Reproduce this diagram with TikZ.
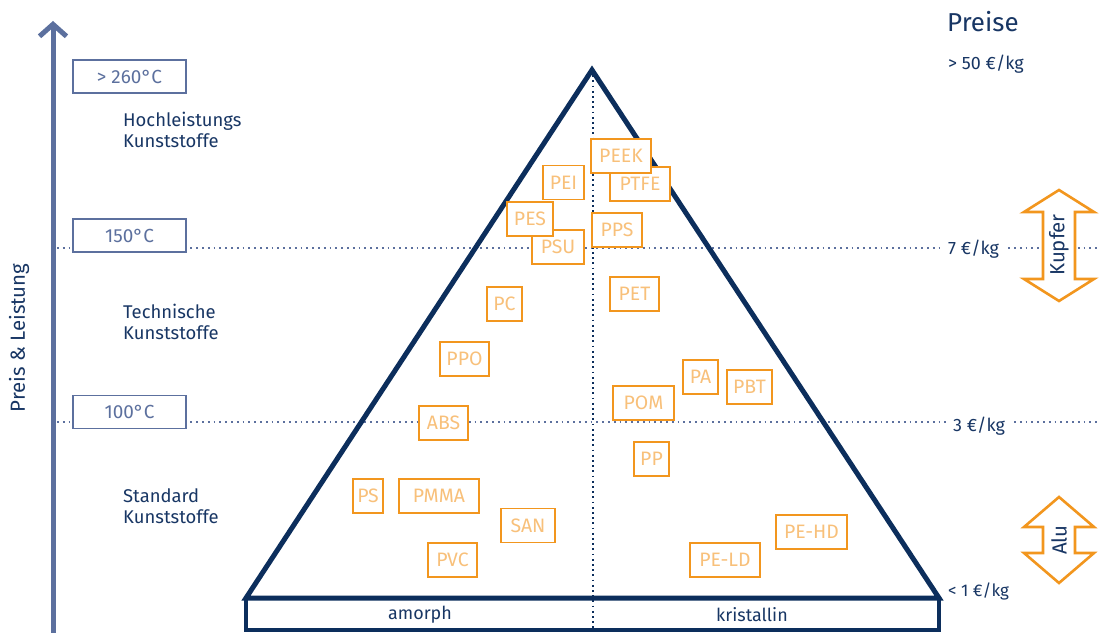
\documentclass[tikz,border=0pt]{standalone}
\usepackage{fontspec}
\setmainfont{Fira Sans}
\usetikzlibrary{arrows.meta}
\definecolor{navy}{RGB}{12,46,92}
\definecolor{navytext}{RGB}{24,54,100}
\definecolor{slate}{RGB}{92,112,158}
\definecolor{orangeline}{RGB}{242,150,30}
\definecolor{orangetext}{RGB}{248,192,122}
\tikzset{
  obox/.style={draw=orangeline, line width=1.5bp, fill=white, text=orangetext,
    minimum height=34bp, inner sep=0pt, font=\fontsize{19.5}{22}\selectfont},
  tbox/.style={draw=slate, line width=1.3bp, fill=white, text=slate,
    minimum width=113bp, minimum height=33bp, inner sep=0pt,
    font=\fontsize{19}{22}\selectfont},
  catlabel/.style={anchor=west, align=left, text=navytext, inner sep=0pt,
    font=\fontsize{18.5}{21}\selectfont},
  pricelabel/.style={anchor=west, text=navytext, fill=white, inner sep=0pt,
    font=\fontsize{18}{21}\selectfont},
  levelline/.style={draw=slate, line width=2.2bp, dash pattern=on 1.8bp off 4bp},
  axisline/.style={draw=navy, line width=2.2bp, dash pattern=on 1.8bp off 3.4bp},
  pyramid/.style={draw=navy, line width=5bp, line join=miter},
  metalarrow/.style={draw=orangeline, line width=2.6bp, fill=white, line join=miter},
  sidelabel/.style={text=navytext, font=\fontsize{18}{21}\selectfont},
}
\begin{document}
\begin{tikzpicture}[x=1bp, y=-1bp]
\useasboundingbox (0,0) rectangle (1101,633);

% level lines for the temperature limits
\coordinate (l150a) at (57,248);
\coordinate (l150b) at (1101,248);
\coordinate (l100a) at (57,422);
\coordinate (l100b) at (1101,422);
\draw[levelline] (l150a) -- (l150b);
\draw[levelline] (l100a) -- (l100b);

% pyramid corners and the amorph / kristallin split
\coordinate (apex) at (592,70);
\coordinate (bl) at (246,598);
\coordinate (br) at (939,598);
\coordinate (midtop) at (593,70);
\coordinate (midbot) at (593,630);
\coordinate (boxbl) at (246,630);
\coordinate (boxbr) at (939,630);
\draw[axisline] (midtop) -- (midbot);
\draw[pyramid] (bl) -- (apex) -- (br) -- cycle;
\draw[draw=navy, line width=4.5bp, line join=miter] (bl) -- (boxbl) -- (boxbr) -- (br);

\node[sidelabel] (amorph) at (420,615) {amorph};
\node[sidelabel] (kristallin) at (752,615) {kristallin};

% price / performance axis
\coordinate (axbot) at (53,633);
\coordinate (axtop) at (53,21);
\draw[draw=slate, line width=5bp, -{Straight Barb[length=12bp, width=27bp, line width=5bp]}] (axbot) -- (axtop);
\node[rotate=90, text=navytext, font=\fontsize{20.5}{24}\selectfont] (axlabel) at (19,338) {Preis \& Leistung};

% temperature limits
\node[tbox] (t260) at (129.5,76.5) {> 260°C};
\node[tbox] (t150) at (129.5,235.5) {150°C};
\node[tbox] (t100) at (129.5,412) {100°C};

% plastic classes
\node[catlabel] (hl) at (123,129.5) {Hochleistungs\\Kunststoffe};
\node[catlabel] (tk) at (123,322) {Technische\\Kunststoffe};
\node[catlabel] (sk) at (123,506) {Standard\\Kunststoffe};

% prices
\node[anchor=west, text=navytext, inner sep=0pt, font=\fontsize{26}{30}\selectfont] (preise) at (947,22) {Preise};
\node[pricelabel] (p50) at (948,64) {> 50 €/kg};
\node[pricelabel, inner xsep=6bp] (p7) at (942,249) {7 €/kg};
\node[pricelabel, inner xsep=6bp] (p3) at (947,426) {3 €/kg};
\node[pricelabel, font=\fontsize{17}{20}\selectfont] (p1) at (948,591) {< 1 €/kg};

% metals for comparison
\draw[metalarrow] (1059,190) -- (1094,212) -- (1075,212) -- (1075,279) -- (1094,279)
  -- (1059,301) -- (1024,279) -- (1043,279) -- (1043,212) -- (1024,212) -- cycle;
\node[rotate=90, text=navytext, font=\fontsize{20.5}{24}\selectfont] (kupfer) at (1059,245) {Kupfer};
\draw[metalarrow] (1059,497) -- (1094,527) -- (1075,527) -- (1075,553) -- (1094,553)
  -- (1059,583) -- (1024,553) -- (1043,553) -- (1043,527) -- (1024,527) -- cycle;
\node[rotate=90, text=navytext, font=\fontsize{20.5}{24}\selectfont] (alu) at (1059,540) {Alu};

% polymers
\node[obox, minimum width=60bp] (ptfe) at (640,184) {PTFE};
\node[obox, minimum width=60bp] (peek) at (621,156) {PEEK};
\node[obox, minimum width=41bp] (pei) at (563.5,182.5) {PEI};
\node[obox, minimum width=52bp] (psu) at (558,247) {PSU};
\node[obox, minimum width=46bp] (pes) at (530,219) {PES};
\node[obox, minimum width=50bp] (pps) at (617,230) {PPS};
\node[obox, minimum width=49bp] (pet) at (634.5,294) {PET};
\node[obox, minimum width=35bp] (pa) at (700.5,377) {PA};
\node[obox, minimum width=45bp] (pbt) at (749.5,387) {PBT};
\node[obox, minimum width=61bp] (pom) at (643.5,403) {POM};
\node[obox, minimum width=35bp] (pp) at (651.5,459) {PP};
\node[obox, minimum width=35bp] (pc) at (504.5,304) {PC};
\node[obox, minimum width=49bp] (ppo) at (464.5,359) {PPO};
\node[obox, minimum width=49bp] (abs) at (443.5,423) {ABS};
\node[obox, minimum width=30bp] (ps) at (368,496) {PS};
\node[obox, minimum width=80bp] (pmma) at (439,496) {PMMA};
\node[obox, minimum width=54bp] (san) at (528,525.5) {SAN};
\node[obox, minimum width=49bp] (pvc) at (452.5,560) {PVC};
\node[obox, minimum width=70bp] (peld) at (725,560) {PE-LD};
\node[obox, minimum width=71bp] (pehd) at (811.5,532) {PE-HD};
\end{tikzpicture}
\end{document}
